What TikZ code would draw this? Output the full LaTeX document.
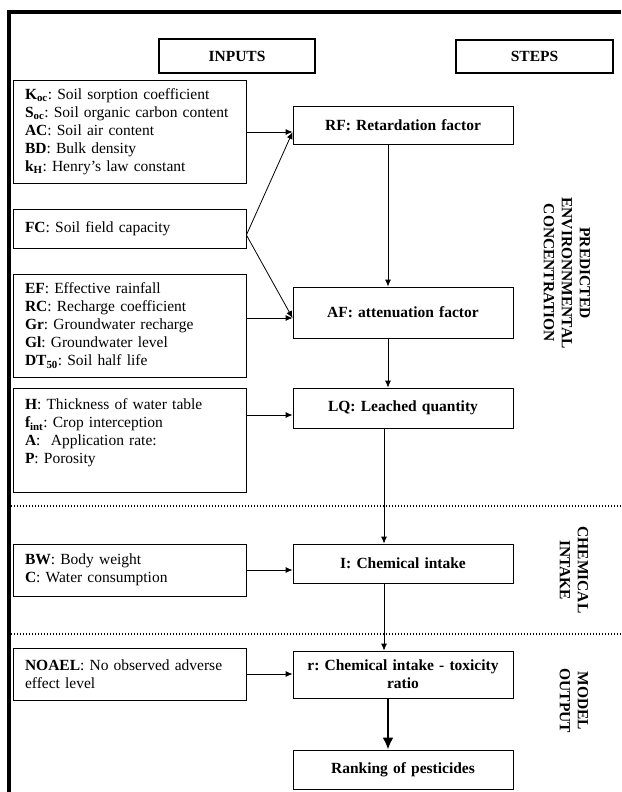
\documentclass[tikz,border=0pt]{standalone}
\usepackage{fontspec}
\setmainfont{Liberation Serif}
\usetikzlibrary{arrows.meta}
\frenchspacing
\newcommand\fsz{\fontsize{15.5}{18}\selectfont\frenchspacing}
\tikzset{
  inbox/.style={draw, line width=0.8pt, minimum width=233pt, text width=209pt, align=left, inner sep=0pt, font=\fsz},
  stepbox/.style={draw, line width=0.8pt, minimum width=220pt, text width=212pt, align=center, inner sep=0pt, font=\fsz\bfseries},
  headbox/.style={draw, line width=2.8pt, inner sep=0pt, font=\fsz\bfseries},
  arr/.style={-{Latex[length=7pt,width=6pt]}, line width=0.8pt},
  bigarr/.style={-{Latex[length=12pt,width=11pt]}, line width=2.6pt},
  side/.style={rotate=-90, align=center, font=\fsz\bfseries, inner sep=0pt},
  sep/.style={line width=1.2pt, dash pattern=on 1.2pt off 1.8pt},
}
\begin{document}
\begin{tikzpicture}[x=1pt,y=-1pt]
\useasboundingbox (0,0) rectangle (621,792);
% frame
\draw[line width=3.5pt] (9,792) -- (9,12) -- (621,12);
% headers
\node[headbox, minimum width=156pt, minimum height=34pt] (inputs) at (237,56) {INPUTS};
\node[headbox, minimum width=157pt, minimum height=33pt] (steps) at (534.5,56.5) {STEPS};
% inputs
\node[inbox, minimum height=103pt] (box1) at (129.5,131.5) {\textbf{K\textsubscript{oc}}: Soil sorption coefficient\\
\textbf{S\textsubscript{oc}}: Soil organic carbon content\\
\textbf{AC}: Soil air content\\
\textbf{BD}: Bulk density\\
\textbf{k\textsubscript{H}}: Henry’s law constant};
\node[inbox, minimum height=39pt] (fc) at (129.5,228.5) {\textbf{FC}: Soil field capacity};
\node[inbox, minimum height=103pt] (ef) at (129.5,325.5) {\textbf{EF}: Effective rainfall\\
\textbf{RC}: Recharge coefficient\\
\textbf{Gr}: Groundwater recharge\\
\textbf{Gl}: Groundwater level\\
\textbf{DT\textsubscript{50}}: Soil half life};
\node[inbox, minimum height=104pt] (hbox) at (129.5,440) {\textbf{H}: Thickness of water table\\
\textbf{f\textsubscript{int}}: Crop interception\\
\textbf{A}:\ \ Application rate:\\
\textbf{P}: Porosity\\ \mbox{}};
\node[inbox, minimum height=52pt] (bw) at (129.5,570) {\textbf{BW}: Body weight\\
\textbf{C}: Water consumption};
\node[inbox, minimum height=52pt] (noael) at (129.5,674) {\textbf{NOAEL}: No observed adverse\\
effect level};
% steps
\node[stepbox, minimum height=38pt] (rf) at (403,125) {RF: Retardation factor};
\node[stepbox, minimum height=51pt] (af) at (403,312.5) {AF: attenuation factor};
\node[stepbox, minimum height=40pt] (lq) at (403,408) {LQ: Leached quantity};
\node[stepbox, minimum height=39pt] (ci) at (403,563.5) {I: Chemical intake};
\node[stepbox, minimum height=47pt] (ratio) at (403,674.5) {r: Chemical intake - toxicity\\ratio};
\node[stepbox, minimum height=39pt] (rank) at (403,769.5) {Ranking of pesticides};
% side labels
\node[side] (pec) at (567,273) {PREDICTED\\ENVIRONNMENTAL\\CONCENTRATION};
\node[side] (chem) at (574,570) {CHEMICAL\\INTAKE};
\node[side] (model) at (574,701) {MODEL\\OUTPUT};
% separators
\coordinate (s1a) at (11,506); \coordinate (s1b) at (621,506);
\coordinate (s2a) at (11,634); \coordinate (s2b) at (621,634);
\draw[sep] (s1a) -- (s1b);
\draw[sep] (s2a) -- (s2b);
% connectors
\coordinate (rfin) at ([yshift=-7pt]rf.west);
\coordinate (fcj) at ([yshift=-6.5pt]fc.east);
\coordinate (afin) at ([yshift=-5.5pt]af.west);
\coordinate (lqin) at ([yshift=-7pt]lq.west);
\draw[arr] (box1.east |- rfin) -- (rfin);
\draw[arr] (fcj) -- (rfin);
\draw[arr] (fcj) -- (afin);
\draw[arr] (ef.east |- afin) -- (afin);
\draw[arr] (hbox.east |- lqin) -- (lqin);
\draw[arr] (bw.east) -- (bw.east -| ci.west);
\draw[arr] (noael.east) -- (noael.east -| ratio.west);
\draw[arr] ([xshift=-15pt]rf.south) -- ([xshift=-15pt]af.north);
\draw[arr] ([xshift=-15pt]af.south) -- ([xshift=-15pt]lq.north);
\draw[arr] ([xshift=-19pt]lq.south) -- ([xshift=-19pt]ci.north);
\draw[arr] ([xshift=-19pt]ci.south) -- ([xshift=-19pt]ratio.north);
\draw[bigarr] ([xshift=-15pt]ratio.south) -- ([xshift=-15pt]rank.north);
\end{tikzpicture}
\end{document}
